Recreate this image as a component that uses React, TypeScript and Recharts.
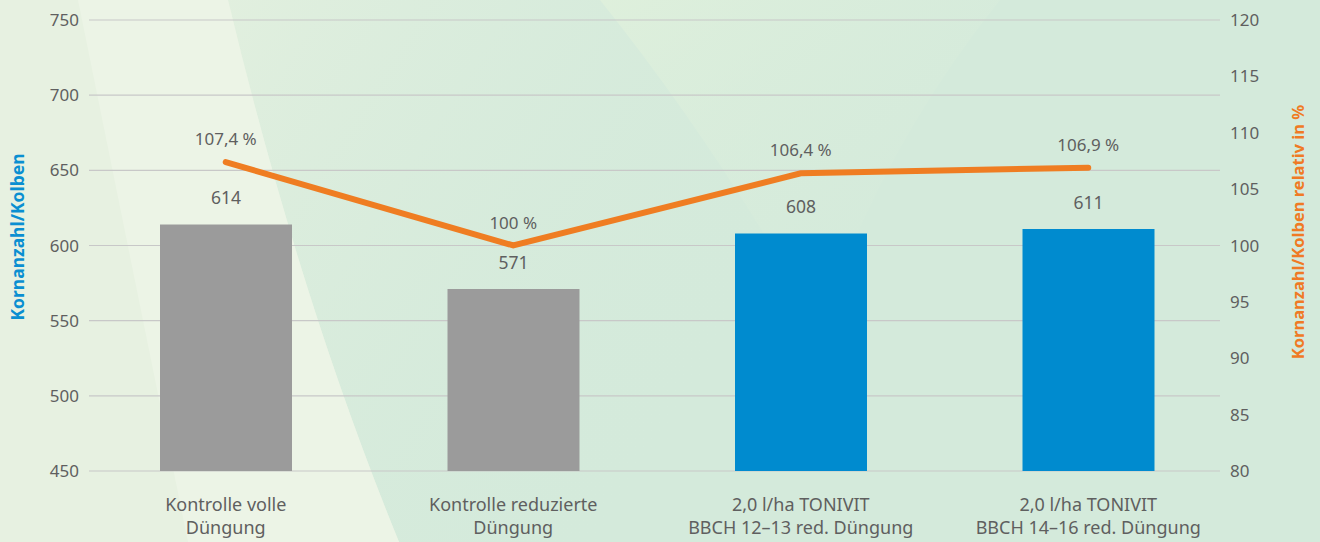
import React from "react";
import {
  ComposedChart,
  Bar,
  Line,
  XAxis,
  YAxis,
  CartesianGrid,
  LabelList,
  Cell,
} from "recharts";

const categories = [
  "Kontrolle volle\nDüngung",
  "Kontrolle reduzierte\nDüngung",
  "2,0 l/ha TONIVIT\nBBCH 12–13 red. Düngung",
  "2,0 l/ha TONIVIT\nBBCH 14–16 red. Düngung",
];
const kornanzahl = [614, 571, 608, 611];
const relativ = [107.4, 100, 106.4, 106.9];
const barColors = ["#9b9b9b", "#9b9b9b", "#008bcf", "#008bcf"];
const leftTicks = [450, 500, 550, 600, 650, 700, 750];
const rightTicks = [80, 85, 90, 95, 100, 105, 110, 115, 120];

const data = categories.map((name, i) => ({
  name,
  korn: kornanzahl[i],
  rel: relativ[i],
}));

const FONT = "'Noto Sans', 'Open Sans', sans-serif";
const GREY = "#5f5f5f";

const formatPct = (v: any) =>
  Number.isInteger(v) ? `${v} %` : `${String(v).replace(".", ",")} %`;

function CategoryTick(props: any) {
  const { x, y, payload } = props;
  const lines = String(payload.value).split("\n");
  return (
    <text
      x={x}
      y={y}
      textAnchor="middle"
      fill={GREY}
      fontSize={18}
      fontFamily={FONT}
    >
      {lines.map((l, i) => (
        <tspan key={i} x={x} dy={i === 0 ? 32 : 23}>
          {l}
        </tspan>
      ))}
    </text>
  );
}

function AxisTitle({ value, color, cx, cy, size }: any) {
  return (
    <text
      x={cx}
      y={cy}
      transform={`rotate(-90, ${cx}, ${cy})`}
      textAnchor="middle"
      dominantBaseline="central"
      fill={color}
      fontSize={size}
      fontWeight={700}
      fontFamily={FONT}
    >
      {value}
    </text>
  );
}

export default function App() {
  return (
    <div
      style={{
        position: "absolute",
        left: 0,
        top: 0,
        width: 1320,
        height: 542,
        background: "#d4eadb",
        overflow: "hidden",
      }}
    >
      <svg
        width={1320}
        height={542}
        style={{ position: "absolute", left: 0, top: 0 }}
      >
        <defs>
          <linearGradient id="mid" x1="0" y1="0" x2="1" y2="0.6">
            <stop offset="0" stopColor="#e3f0df" />
            <stop offset="1" stopColor="#d4eadb" stopOpacity={0} />
          </linearGradient>
          <linearGradient id="glow" x1="0" y1="0" x2="1" y2="1">
            <stop offset="0" stopColor="#dff0dc" stopOpacity={0.9} />
            <stop offset="1" stopColor="#d4eadb" stopOpacity={0} />
          </linearGradient>
        </defs>
        <polygon points="180,0 760,0 760,542 340,542" fill="url(#mid)" />
        <path d="M600 0 L1000 0 Q880 150 820 330 Q720 150 600 0 Z" fill="url(#glow)" />
        <path d="M0 0 L228 0 Q300 300 399 542 L0 542 Z" fill="#e7f1e1" />
        <path d="M78 0 L228 0 Q300 300 399 542 L188 542 Z" fill="#ecf4e6" />
      </svg>
      <div style={{ position: "absolute", left: 0, top: 0 }}>
        <ComposedChart
          width={1320}
          height={542}
          data={data}
          margin={{ top: 20, right: 0, left: 0, bottom: 0 }}
        >
          <CartesianGrid
            vertical={false}
            yAxisId="left"
            stroke="#c8c8c8"
            strokeWidth={1.2}
          />
          <XAxis
            dataKey="name"
            height={71}
            axisLine={false}
            tickLine={false}
            interval={0}
            tick={<CategoryTick />}
            padding={{ left: -7, right: -12 }}
          />
          <YAxis
            yAxisId="left"
            width={89}
            domain={[450, 750]}
            ticks={leftTicks}
            axisLine={false}
            tickLine={false}
            tickSize={6}
            tickMargin={4}
            tick={{ fill: GREY, fontSize: 17, fontFamily: FONT }}
            label={(p: any) => (
              <AxisTitle
                value="Kornanzahl/Kolben"
                color="#0a8fd1"
                cx={17}
                cy={237}
                size={17.5}
              />
            )}
          />
          <YAxis
            yAxisId="right"
            orientation="right"
            width={100}
            domain={[80, 120]}
            ticks={rightTicks}
            axisLine={false}
            tickLine={false}
            tickSize={6}
            tickMargin={4}
            tick={{ fill: GREY, fontSize: 17, fontFamily: FONT, textAnchor: "start" }}
            label={(p: any) => (
              <AxisTitle
                value="Kornanzahl/Kolben relativ in %"
                color="#f07a24"
                cx={1297}
                cy={232}
                size={16.5}
              />
            )}
          />
          <Bar
            yAxisId="left"
            dataKey="korn"
            barSize={132}
            isAnimationActive={false}
          >
            {data.map((_, i) => (
              <Cell key={i} fill={barColors[i]} />
            ))}
            <LabelList
              dataKey="korn"
              position="top"
              offset={20}
              fill={GREY}
              fontSize={17.5}
              fontFamily={FONT}
            />
          </Bar>
          <Line
            yAxisId="right"
            dataKey="rel"
            type="linear"
            stroke="#ef7d22"
            strokeWidth={6}
            strokeLinecap="round"
            dot={false}
            activeDot={false}
            isAnimationActive={false}
          >
            <LabelList
              dataKey="rel"
              position="top"
              offset={17}
              fill={GREY}
              fontSize={17}
              fontFamily={FONT}
              formatter={formatPct}
            />
          </Line>
        </ComposedChart>
      </div>
    </div>
  );
}
